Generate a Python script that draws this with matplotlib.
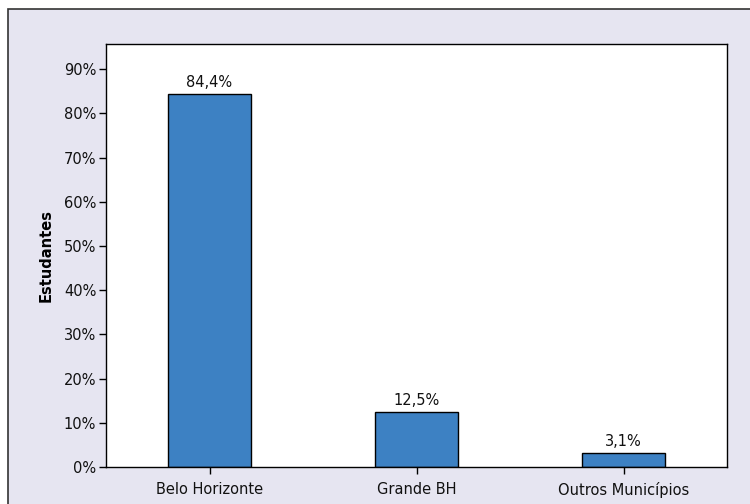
import matplotlib.pyplot as plt
from matplotlib.patches import Rectangle

# Dados
categorias = ["Belo Horizonte", "Grande BH", "Outros Municípios"]
valores = [84.4, 12.5, 3.1]
rotulos = ["84,4%", "12,5%", "3,1%"]
ticks_y = [0, 10, 20, 30, 40, 50, 60, 70, 80, 90]

fundo = "#E6E5F1"
cor_barra = "#3D81C3"

fig = plt.figure(figsize=(7.5, 5.04), dpi=100, facecolor="white")
# moldura de fundo (cortada na direita e embaixo)
fig.patches.append(Rectangle((8 / 750, -0.1), 1.0, 1.1 - 9 / 504,
                             transform=fig.transFigure, facecolor=fundo,
                             edgecolor="#333333", linewidth=1.2, zorder=-1))

ax = fig.add_axes([106 / 750, 1 - 467 / 504, 621 / 750, 423 / 504])
ax.set_facecolor("white")

x = range(len(categorias))
ax.bar(x, valores, width=0.4, color=cor_barra, edgecolor="black", linewidth=1)
for xi, v, r in zip(x, valores, rotulos):
    ax.text(xi, v + 0.9, r, ha="center", va="bottom", fontsize=10.5, color="#111111")

ax.set_xlim(-0.5, 2.5)
ax.set_ylim(0, 95.7)
ax.set_xticks(list(x))
ax.set_xticklabels(categorias, fontsize=10.5, color="#111111")
ax.set_yticks(ticks_y)
ax.set_yticklabels([f"{t}%" for t in ticks_y], fontsize=10.5, color="#111111")
ax.tick_params(axis="y", direction="out", length=5, width=1, color="black", pad=2)
ax.tick_params(axis="x", direction="out", length=5, width=1, color="black", pad=6)
for s in ax.spines.values():
    s.set_linewidth(1)
    s.set_color("black")
ax.set_ylabel("Estudantes", fontsize=10.5, fontweight="bold", labelpad=7)

fig.savefig("out.png", dpi=100, facecolor=fig.get_facecolor())
